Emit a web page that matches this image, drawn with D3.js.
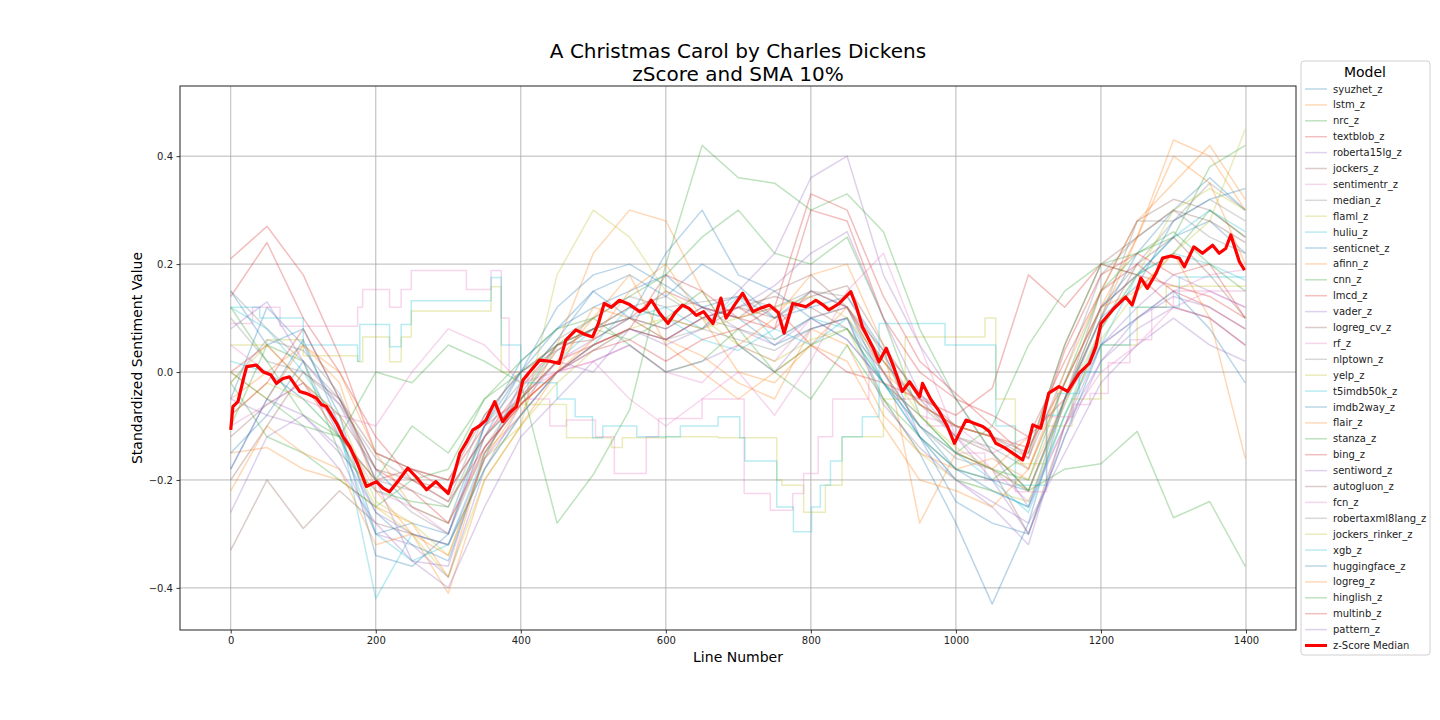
<!DOCTYPE html>
<html>
<head>
<meta charset="utf-8">
<script src="https://cdn.jsdelivr.net/npm/d3@7"></script>
<style>
  body { margin: 0; background: #fff; }
  text { font-family: "DejaVu Sans", sans-serif; }
</style>
</head>
<body>
<div id="chart"></div>
<script>
// x positions (line numbers) shared by the smooth model series
var lineNumbers = [0, 50, 100, 150, 200, 250, 300, 350, 400, 450, 500, 550, 600, 650, 700,
  750, 800, 850, 900, 950, 1000, 1050, 1100, 1150, 1200, 1250, 1300, 1350, 1399];

var modelNames = ["syuzhet_z", "lstm_z", "nrc_z", "textblob_z", "roberta15lg_z", "jockers_z",
  "sentimentr_z", "median_z", "flaml_z", "huliu_z", "senticnet_z", "afinn_z", "cnn_z", "lmcd_z",
  "vader_z", "logreg_cv_z", "rf_z", "nlptown_z", "yelp_z", "t5imdb50k_z", "imdb2way_z", "flair_z",
  "stanza_z", "bing_z", "sentiword_z", "autogluon_z", "fcn_z", "robertaxml8lang_z",
  "jockers_rinker_z", "xgb_z", "huggingface_z", "logreg_z", "hinglish_z", "multinb_z", "pattern_z"];

// values, one per line number
var syuzhet_z = [-0.05, 0.12, 0.05, -0.08, -0.30, -0.28, -0.30, -0.12, 0.00, 0.08, 0.15, 0.18, 0.14, 0.20, 0.16, 0.10, 0.15, 0.12, -0.02, -0.10, -0.18, -0.22, -0.25, -0.05, 0.10, 0.22, 0.30, 0.36, 0.30];
var lstm_z = [-0.15, -0.14, -0.18, -0.20, -0.25, -0.28, -0.38, -0.15, -0.08, 0.05, 0.22, 0.30, 0.28, 0.15, 0.05, 0.10, 0.18, 0.20, 0.05, -0.28, -0.15, -0.18, -0.12, -0.05, 0.12, 0.25, 0.40, 0.35, 0.20];
var nrc_z = [-0.10, 0.05, 0.02, -0.15, -0.22, -0.24, -0.25, -0.12, -0.05, 0.05, 0.10, 0.14, 0.18, 0.25, 0.30, 0.22, 0.20, 0.25, 0.10, -0.08, -0.15, -0.10, 0.05, 0.15, 0.20, 0.18, 0.22, 0.30, 0.25];
var textblob_z = [0.21, 0.27, 0.18, 0.03, -0.15, -0.18, -0.20, -0.10, -0.05, 0.02, 0.05, 0.08, 0.06, 0.10, 0.12, 0.08, 0.15, 0.12, 0.02, -0.06, -0.10, -0.12, -0.14, -0.02, 0.12, 0.18, 0.16, 0.14, 0.10];
var roberta15lg_z = [-0.18, -0.05, -0.08, -0.15, -0.30, -0.32, -0.38, -0.18, -0.06, 0.02, 0.06, 0.10, 0.08, 0.12, 0.08, 0.05, 0.10, 0.12, 0.00, -0.12, -0.20, -0.25, -0.32, -0.10, 0.05, 0.12, 0.18, 0.15, 0.12];
var jockers_z = [-0.33, -0.20, -0.29, -0.22, -0.28, -0.30, -0.32, -0.18, -0.08, 0.00, 0.05, 0.08, 0.06, 0.10, 0.12, 0.10, 0.14, 0.16, 0.05, -0.05, -0.12, -0.15, -0.22, -0.05, 0.15, 0.28, 0.32, 0.30, 0.25];
var sentimentr_z = [0.05, 0.00, -0.05, -0.08, -0.10, 0.00, 0.08, 0.05, -0.02, 0.00, 0.02, 0.05, 0.00, -0.02, 0.05, 0.02, 0.10, 0.06, -0.02, -0.08, -0.10, -0.15, -0.12, -0.05, 0.05, 0.10, 0.15, 0.18, 0.19];
var median_z = [0.15, 0.08, 0.02, -0.05, -0.20, -0.22, -0.25, -0.10, -0.02, 0.06, 0.10, 0.14, 0.12, 0.13, 0.14, 0.12, 0.15, 0.14, 0.03, -0.06, -0.12, -0.14, -0.18, -0.02, 0.12, 0.20, 0.28, 0.32, 0.28];
var huliu_z = [0.12, 0.08, 0.00, -0.10, -0.42, -0.30, -0.32, -0.15, -0.05, 0.02, 0.08, 0.10, 0.12, 0.08, 0.14, 0.06, 0.10, 0.08, -0.02, -0.12, -0.20, -0.22, -0.25, -0.08, 0.08, 0.18, 0.25, 0.30, 0.26];
var senticnet_z = [0.15, 0.05, 0.08, -0.05, -0.18, -0.25, -0.28, -0.10, 0.02, 0.08, 0.12, 0.15, 0.18, 0.12, 0.10, 0.05, 0.08, 0.10, -0.05, -0.15, -0.28, -0.43, -0.28, -0.05, 0.12, 0.18, 0.25, 0.28, 0.22];
var afinn_z = [0.00, -0.05, 0.05, -0.02, -0.22, -0.30, -0.41, -0.20, -0.10, 0.00, 0.12, 0.10, 0.06, 0.03, -0.02, -0.05, 0.08, 0.05, -0.08, -0.15, -0.18, -0.16, -0.20, -0.05, 0.10, 0.25, 0.43, 0.40, 0.30];
var cnn_z = [-0.02, -0.12, -0.15, -0.20, -0.25, -0.20, -0.18, -0.05, 0.02, 0.08, 0.10, 0.05, 0.00, 0.02, 0.08, 0.00, -0.05, 0.05, -0.05, -0.12, -0.18, -0.20, -0.15, 0.05, 0.20, 0.22, 0.25, 0.38, 0.42];
var lmcd_z = [0.00, 0.05, -0.02, -0.12, -0.20, -0.18, -0.22, -0.12, -0.03, 0.05, 0.08, 0.10, 0.15, 0.12, 0.10, 0.12, 0.05, 0.00, -0.02, -0.05, -0.08, -0.03, 0.18, 0.12, 0.20, 0.18, 0.12, 0.10, 0.05];
var vader_z = [-0.05, -0.08, -0.10, -0.18, -0.28, -0.35, -0.36, -0.15, -0.05, 0.02, 0.00, 0.08, 0.05, 0.08, 0.15, 0.22, 0.36, 0.40, 0.18, 0.05, -0.05, -0.15, -0.25, -0.10, 0.02, 0.08, 0.12, 0.10, 0.05];
var logreg_cv_z = [-0.12, -0.06, -0.02, -0.08, -0.18, -0.20, -0.22, -0.12, -0.05, 0.04, 0.08, 0.12, 0.10, 0.08, 0.12, 0.14, 0.12, 0.08, 0.00, -0.10, -0.15, -0.18, -0.30, -0.10, 0.08, 0.20, 0.25, 0.18, 0.10];
var nlptown_z = [0.10, 0.02, 0.00, -0.06, -0.16, -0.20, -0.24, -0.08, 0.00, 0.04, 0.08, 0.12, 0.14, 0.10, 0.08, 0.06, 0.10, 0.12, 0.02, -0.06, -0.10, -0.12, -0.16, 0.00, 0.18, 0.25, 0.30, 0.25, 0.22];
var yelp_z = [-0.08, -0.02, -0.05, -0.12, -0.25, -0.30, -0.38, -0.20, -0.10, 0.18, 0.30, 0.25, 0.15, 0.10, 0.05, 0.02, 0.06, 0.08, -0.05, -0.15, -0.20, -0.22, -0.24, -0.08, 0.06, 0.15, 0.22, 0.28, 0.45];
var t5imdb50k_z = [0.02, 0.00, -0.05, -0.12, -0.30, -0.35, -0.32, -0.18, -0.08, 0.00, 0.05, 0.12, 0.10, 0.06, 0.04, 0.08, 0.05, 0.10, -0.02, -0.10, -0.15, -0.20, -0.26, -0.08, 0.05, 0.18, 0.22, 0.20, 0.17];
var imdb2way_z = [-0.15, -0.08, 0.02, -0.12, -0.26, -0.32, -0.35, -0.16, -0.02, 0.06, 0.15, 0.10, 0.22, 0.30, 0.18, 0.15, 0.10, 0.06, -0.02, -0.12, -0.18, -0.20, -0.22, -0.05, 0.10, 0.16, 0.28, 0.32, 0.34];
var flair_z = [-0.05, 0.00, 0.05, 0.00, -0.15, -0.25, -0.28, -0.15, -0.05, 0.02, 0.10, 0.18, 0.05, 0.00, -0.05, 0.00, 0.05, 0.02, -0.10, -0.20, -0.22, -0.25, -0.18, 0.00, 0.15, 0.28, 0.35, 0.42, 0.32];
var stanza_z = [0.12, 0.02, -0.08, -0.12, -0.20, -0.10, -0.15, -0.05, 0.00, 0.05, 0.08, 0.06, 0.10, 0.15, 0.05, 0.00, 0.05, 0.08, -0.02, -0.08, -0.15, -0.18, -0.20, -0.02, 0.15, 0.22, 0.26, 0.20, 0.15];
var bing_z = [-0.08, -0.02, 0.08, -0.05, -0.18, -0.22, -0.28, -0.14, -0.06, 0.00, 0.05, 0.08, 0.18, 0.15, 0.10, 0.08, 0.30, 0.28, 0.10, 0.00, -0.05, -0.08, -0.12, 0.02, 0.15, 0.20, 0.15, 0.12, 0.08];
var sentiword_z = [0.08, 0.13, 0.02, -0.06, -0.20, -0.35, -0.40, -0.25, -0.12, -0.05, 0.02, 0.05, 0.00, 0.02, 0.05, 0.00, 0.08, 0.10, -0.06, -0.14, -0.20, -0.24, -0.28, -0.15, -0.02, 0.05, 0.10, 0.05, 0.02];
var autogluon_z = [-0.20, -0.10, 0.00, -0.05, -0.15, -0.18, -0.20, -0.08, 0.00, 0.05, 0.06, 0.10, 0.08, 0.12, 0.10, 0.15, 0.18, 0.12, 0.04, -0.04, -0.10, -0.12, -0.15, 0.05, 0.20, 0.25, 0.30, 0.28, 0.24];
var fcn_z = [-0.10, -0.06, -0.02, -0.10, -0.22, -0.25, -0.30, -0.12, -0.04, 0.00, 0.02, -0.05, -0.10, -0.05, 0.00, -0.08, 0.02, 0.15, 0.22, 0.05, -0.12, -0.18, -0.24, -0.10, 0.00, 0.05, 0.12, 0.15, 0.12];
var robertaxml8lang_z = [-0.02, 0.06, 0.04, -0.04, -0.20, -0.26, -0.30, -0.14, -0.04, 0.05, 0.08, 0.10, 0.06, 0.08, 0.06, 0.04, 0.08, 0.10, 0.00, -0.10, -0.16, -0.18, -0.22, -0.06, 0.10, 0.28, 0.28, 0.35, 0.30];
var jockers_rinker_z = [-0.02, 0.05, -0.02, -0.08, -0.24, -0.28, -0.34, -0.16, -0.10, -0.02, 0.04, 0.08, 0.10, 0.08, 0.10, 0.12, 0.14, 0.10, 0.02, -0.08, -0.14, -0.18, -0.22, -0.06, 0.08, 0.18, 0.30, 0.34, 0.30];
var huggingface_z = [-0.18, -0.05, 0.06, -0.10, -0.34, -0.36, -0.30, -0.10, 0.00, 0.12, 0.18, 0.20, 0.16, 0.12, 0.14, 0.10, 0.12, 0.14, 0.04, -0.12, -0.24, -0.28, -0.30, -0.12, 0.05, 0.10, 0.15, 0.08, -0.02];
var logreg_z = [-0.22, -0.10, -0.15, -0.18, -0.32, -0.30, -0.34, -0.16, -0.06, 0.00, 0.06, 0.15, 0.20, 0.10, 0.00, -0.02, 0.05, 0.12, 0.00, -0.06, -0.10, -0.12, -0.18, -0.02, 0.12, 0.15, 0.22, 0.10, -0.16];
var hinglish_z = [0.00, -0.05, -0.10, -0.12, 0.00, -0.02, 0.05, 0.02, -0.02, -0.28, -0.19, -0.07, 0.20, 0.42, 0.36, 0.35, 0.30, 0.33, 0.26, 0.08, -0.05, -0.15, -0.22, -0.18, -0.17, -0.11, -0.27, -0.24, -0.36];
var multinb_z = [0.14, 0.24, 0.10, 0.00, -0.12, -0.20, -0.24, -0.14, -0.06, 0.00, 0.04, 0.06, 0.02, 0.06, 0.08, 0.12, 0.33, 0.30, 0.14, 0.02, -0.04, -0.10, -0.16, 0.04, 0.18, 0.22, 0.18, 0.20, 0.10];
var pattern_z = [-0.26, -0.12, -0.08, -0.14, -0.26, -0.30, -0.32, -0.16, -0.08, 0.00, 0.04, 0.08, 0.06, 0.10, 0.12, 0.16, 0.22, 0.26, 0.10, -0.04, -0.12, -0.20, -0.30, -0.12, 0.02, 0.10, 0.14, 0.12, 0.08];

// the three classifier models change in steps, so they carry their own break points
var flamlLines = [0, 50, 100, 175, 182, 219, 235, 249, 359, 373, 400, 463, 525, 540, 600, 672, 753, 760, 790, 820, 843, 900, 930, 1040, 1055, 1082, 1125, 1160, 1200, 1250, 1290, 1399];
var flaml_z = [0.05, 0.06, 0.03, 0.019, 0.065, 0.019, 0.065, 0.113, 0.158, 0.0, -0.06, -0.122, -0.14, -0.122, -0.12, -0.122, -0.2, -0.21, -0.26, -0.21, -0.12, -0.05, 0.065, 0.1, -0.05, -0.17, -0.1, -0.05, 0.05, 0.12, 0.159, 0.159];
var rfLines = [0, 30, 68, 175, 182, 219, 235, 249, 325, 359, 373, 384, 410, 440, 463, 503, 529, 573, 590, 650, 708, 744, 775, 790, 810, 830, 880, 920, 960, 1000, 1040, 1082, 1125, 1162, 1185, 1210, 1240, 1270, 1300, 1399];
var rf_z = [0.09, 0.12, 0.085, 0.12, 0.153, 0.12, 0.153, 0.188, 0.153, 0.188, 0.1, 0.0, -0.05, -0.1, -0.089, -0.12, -0.188, -0.12, -0.086, -0.05, -0.225, -0.256, -0.225, -0.188, -0.12, -0.05, 0.0, -0.05, -0.1, -0.15, -0.2, -0.222, -0.083, -0.06, -0.04, 0.017, 0.06, 0.12, 0.15, 0.15];
var xgbLines = [0, 40, 100, 175, 178, 219, 235, 249, 359, 373, 400, 450, 475, 499, 513, 560, 620, 672, 702, 709, 753, 776, 801, 813, 827, 843, 871, 894, 985, 1055, 1082, 1125, 1140, 1170, 1200, 1240, 1308, 1399];
var xgb_z = [0.12, 0.1, 0.05, 0.02, 0.088, 0.047, 0.088, 0.132, 0.175, 0.05, -0.02, -0.05, -0.083, -0.122, -0.1, -0.12, -0.1, -0.083, -0.122, -0.165, -0.25, -0.296, -0.25, -0.21, -0.165, -0.12, -0.083, 0.09, 0.05, -0.1, -0.21, -0.08, -0.04, 0.0, 0.05, 0.12, 0.176, 0.176];

// z-Score median (thick red line)
var medianLines = [0, 3, 10, 18, 22, 35, 45, 55, 63, 72, 81, 95, 105, 118, 125, 132, 146, 155, 164, 175, 187, 201, 210, 219, 232, 244, 256, 270, 283, 292, 300, 308, 316, 325, 334, 343, 352, 364, 375, 385, 394, 403, 412, 426, 440, 453, 462, 476, 488, 499, 507, 515, 525, 536, 550, 564, 572, 580, 591, 603, 613, 623, 632, 642, 652, 665, 676, 683, 695, 706, 720, 730, 743, 755, 763, 775, 793, 807, 816, 825, 839, 855, 863, 871, 885, 894, 904, 914, 926, 936, 950, 954, 965, 977, 988, 998, 1006, 1014, 1025, 1037, 1046, 1055, 1067, 1078, 1092, 1100, 1106, 1117, 1128, 1142, 1154, 1170, 1184, 1193, 1200, 1216, 1234, 1243, 1255, 1264, 1276, 1285, 1296, 1308, 1315, 1328, 1340, 1354, 1363, 1372, 1379, 1391, 1398];
var medianValues = [-0.107, -0.064, -0.055, -0.01, 0.01, 0.013, 0.0, -0.005, -0.021, -0.012, -0.009, -0.036, -0.04, -0.048, -0.06, -0.064, -0.095, -0.12, -0.138, -0.17, -0.212, -0.203, -0.215, -0.222, -0.2, -0.178, -0.195, -0.218, -0.203, -0.215, -0.225, -0.19, -0.15, -0.13, -0.107, -0.1, -0.089, -0.055, -0.092, -0.075, -0.064, -0.015, 0.0, 0.022, 0.02, 0.016, 0.059, 0.078, 0.07, 0.065, 0.09, 0.127, 0.12, 0.133, 0.125, 0.112, 0.118, 0.133, 0.11, 0.09, 0.11, 0.124, 0.118, 0.105, 0.112, 0.09, 0.137, 0.1, 0.125, 0.146, 0.112, 0.118, 0.124, 0.11, 0.072, 0.127, 0.121, 0.133, 0.125, 0.115, 0.127, 0.149, 0.12, 0.084, 0.047, 0.019, 0.044, 0.01, -0.036, -0.018, -0.046, -0.021, -0.05, -0.073, -0.1, -0.132, -0.11, -0.089, -0.095, -0.101, -0.11, -0.132, -0.14, -0.15, -0.163, -0.13, -0.098, -0.104, -0.039, -0.027, -0.036, -0.002, 0.016, 0.047, 0.09, 0.115, 0.139, 0.124, 0.174, 0.155, 0.183, 0.211, 0.215, 0.211, 0.195, 0.232, 0.22, 0.235, 0.22, 0.229, 0.254, 0.204, 0.189];

var xTicks = [0, 200, 400, 600, 800, 1000, 1200, 1400];
var yTicks = [-0.4, -0.2, 0.0, 0.2, 0.4];

// gather the series in legend order
var seriesValues = {
  syuzhet_z: syuzhet_z, lstm_z: lstm_z, nrc_z: nrc_z, textblob_z: textblob_z,
  roberta15lg_z: roberta15lg_z, jockers_z: jockers_z, sentimentr_z: sentimentr_z,
  median_z: median_z, flaml_z: flaml_z, huliu_z: huliu_z, senticnet_z: senticnet_z,
  afinn_z: afinn_z, cnn_z: cnn_z, lmcd_z: lmcd_z, vader_z: vader_z, logreg_cv_z: logreg_cv_z,
  rf_z: rf_z, nlptown_z: nlptown_z, yelp_z: yelp_z, t5imdb50k_z: t5imdb50k_z,
  imdb2way_z: imdb2way_z, flair_z: flair_z, stanza_z: stanza_z, bing_z: bing_z,
  sentiword_z: sentiword_z, autogluon_z: autogluon_z, fcn_z: fcn_z,
  robertaxml8lang_z: robertaxml8lang_z, jockers_rinker_z: jockers_rinker_z, xgb_z: xgb_z,
  huggingface_z: huggingface_z, logreg_z: logreg_z, hinglish_z: hinglish_z,
  multinb_z: multinb_z, pattern_z: pattern_z
};
var stepLines = { flaml_z: flamlLines, rf_z: rfLines, xgb_z: xgbLines };

var series = modelNames.map(function(name, i) {
  var xs = stepLines[name] || lineNumbers;
  return {
    name: name,
    color: d3.schemeCategory10[i % 10],
    step: !!stepLines[name],
    points: seriesValues[name].map(function(v, j) { return { x: xs[j], y: v }; })
  };
});
var medianPoints = medianLines.map(function(l, i) { return { x: l, y: medianValues[i] }; });

// dimensions
var margin = {top: 86, right: 144, bottom: 90, left: 180},
    width = 1296 - margin.left,
    height = 630 - margin.top;

var svg = d3.select("#chart")
  .append("svg")
    .attr("width", 1440)
    .attr("height", 720);

var g = svg.append("g")
    .attr("transform", "translate(" + margin.left + "," + margin.top + ")");

var x = d3.scaleLinear()
  .domain([-69.95, 1468.95])
  .range([0, width]);

var y = d3.scaleLinear()
  .domain([-0.478, 0.53])
  .range([height, 0]);

// grid lines
g.append("g")
  .selectAll("line")
  .data(xTicks)
  .enter()
  .append("line")
    .attr("x1", function(d) { return x(d); })
    .attr("x2", function(d) { return x(d); })
    .attr("y1", 0)
    .attr("y2", height)
    .style("stroke", "#b0b0b0")
    .style("stroke-width", 0.9);

g.append("g")
  .selectAll("line")
  .data(yTicks)
  .enter()
  .append("line")
    .attr("x1", 0)
    .attr("x2", width)
    .attr("y1", function(d) { return y(d); })
    .attr("y2", function(d) { return y(d); })
    .style("stroke", "#b0b0b0")
    .style("stroke-width", 0.9);

// clip to the axes box
g.append("clipPath")
    .attr("id", "plotClip")
  .append("rect")
    .attr("width", width)
    .attr("height", height);

var line = d3.line()
  .x(function(d) { return x(d.x); })
  .y(function(d) { return y(d.y); });

var stepLine = d3.line()
  .x(function(d) { return x(d.x); })
  .y(function(d) { return y(d.y); })
  .curve(d3.curveStepAfter);

var plot = g.append("g").attr("clip-path", "url(#plotClip)");

plot.selectAll("path.model")
  .data(series)
  .enter()
  .append("path")
    .attr("class", "model")
    .attr("d", function(d) { return d.step ? stepLine(d.points) : line(d.points); })
    .attr("fill", "none")
    .attr("stroke", function(d) { return d.color; })
    .attr("stroke-width", 1.5)
    .attr("stroke-opacity", 0.3)
    .attr("stroke-linejoin", "round");

plot.append("path")
  .datum(medianPoints)
  .attr("d", line)
  .attr("fill", "none")
  .attr("stroke", "#ff0000")
  .attr("stroke-width", 3.2)
  .attr("stroke-linejoin", "round");

// axes
var xAxis = g.append("g")
  .attr("transform", "translate(0," + height + ")")
  .call(d3.axisBottom(x).tickValues(xTicks).tickSize(3.5).tickPadding(3.5).tickFormat(d3.format("d")));

var yAxis = g.append("g")
  .call(d3.axisLeft(y).tickValues(yTicks).tickSize(3.5).tickPadding(3.5).tickFormat(d3.format(".1f")));

[xAxis, yAxis].forEach(function(a) {
  a.select(".domain").remove();
  a.selectAll("line").style("stroke", "#222").style("stroke-width", 0.9);
  a.selectAll("text").style("font-size", "10px").style("fill", "#222")
    .style("font-family", "DejaVu Sans, sans-serif");
});

// frame
g.append("rect")
  .attr("width", width)
  .attr("height", height)
  .attr("fill", "none")
  .attr("stroke", "#222")
  .attr("stroke-width", 1);

// titles
svg.append("text")
  .attr("x", 738)
  .attr("y", 58)
  .attr("text-anchor", "middle")
  .style("font-size", "20px")
  .text("A Christmas Carol by Charles Dickens");

svg.append("text")
  .attr("x", 738)
  .attr("y", 81)
  .attr("text-anchor", "middle")
  .style("font-size", "20px")
  .text("zScore and SMA 10%");

svg.append("text")
  .attr("x", 738)
  .attr("y", 662)
  .attr("text-anchor", "middle")
  .style("font-size", "14px")
  .text("Line Number");

svg.append("text")
  .attr("transform", "translate(142," + (margin.top + height / 2) + ")rotate(-90)")
  .attr("text-anchor", "middle")
  .style("font-size", "14px")
  .text("Standardized Sentiment Value");

// legend
var legend = svg.append("g");

legend.append("rect")
  .attr("x", 1301)
  .attr("y", 61)
  .attr("width", 129)
  .attr("height", 594)
  .attr("rx", 3)
  .attr("fill", "#fff")
  .attr("stroke", "#d0d0d0");

legend.append("text")
  .attr("x", 1365)
  .attr("y", 77)
  .attr("text-anchor", "middle")
  .style("font-size", "14px")
  .text("Model");

var legendItems = series.map(function(d) { return { name: d.name, color: d.color, opacity: 0.3, w: 1.5 }; })
  .concat([{ name: "z-Score Median", color: "#ff0000", opacity: 1, w: 3 }]);

var item = legend.selectAll("g.item")
  .data(legendItems)
  .enter()
  .append("g")
    .attr("class", "item")
    .attr("transform", function(d, i) { return "translate(0," + (89 + i * 15.9) + ")"; });

item.append("line")
  .attr("x1", 1305)
  .attr("x2", 1327)
  .attr("stroke", function(d) { return d.color; })
  .attr("stroke-opacity", function(d) { return d.opacity; })
  .attr("stroke-width", function(d) { return d.w; });

item.append("text")
  .attr("x", 1333)
  .attr("dy", "0.35em")
  .style("font-size", "10px")
  .style("fill", "#222")
  .text(function(d) { return d.name; });
</script>
</body>
</html>
